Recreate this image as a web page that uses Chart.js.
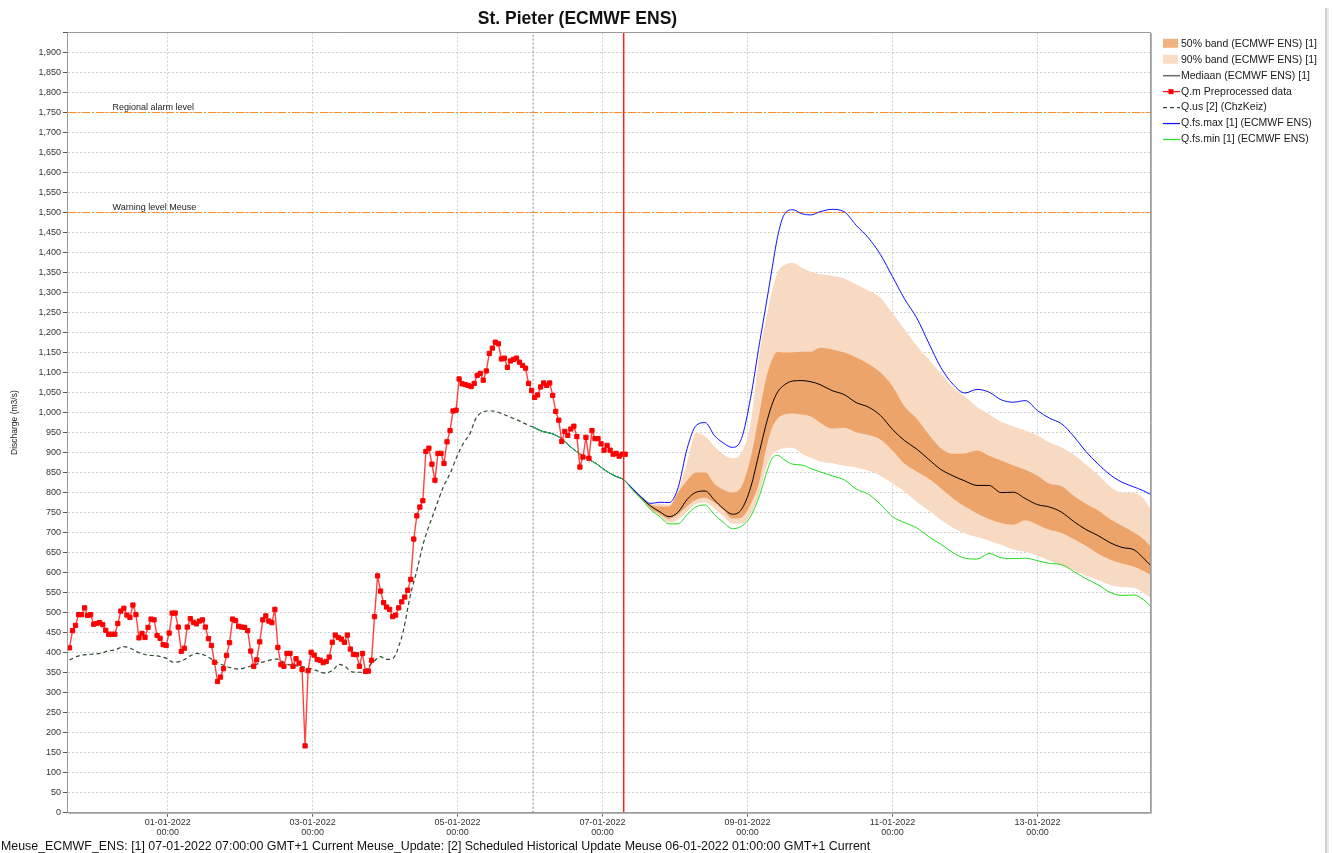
<!DOCTYPE html>
<html><head><meta charset="utf-8">
<script src="https://cdn.jsdelivr.net/npm/chart.js@4.4.1/dist/chart.umd.min.js"></script>
<style>html,body{margin:0;padding:0;background:#fff;overflow:hidden}canvas{display:block}</style>
</head><body>
<canvas id="c" width="1333" height="853"></canvas>
<script>
// ---------- texts ----------
const chartTitle = 'St. Pieter (ECMWF ENS)';
const yAxisTitle = 'Discharge (m3/s)';
const footerText = 'Meuse_ECMWF_ENS: [1] 07-01-2022 07:00:00 GMT+1 Current Meuse_Update: [2] Scheduled Historical Update Meuse 06-01-2022 01:00:00 GMT+1 Current';
const legendLabels = ['50% band (ECMWF ENS) [1]', '90% band (ECMWF ENS) [1]', 'Mediaan (ECMWF ENS) [1]', 'Q.m Preprocessed data', 'Q.us [2] (ChzKeiz)', 'Q.fs.max [1] (ECMWF ENS)', 'Q.fs.min [1] (ECMWF ENS)'];

// ---------- axes (x in hours after 01-01-2022 00:00) ----------
const xMinHour = -33;
const xMaxHour = 325.6;
const xTickHours = [0, 48, 96, 144, 192, 240, 288];
const xTickDates = ['01-01-2022', '03-01-2022', '05-01-2022', '07-01-2022', '09-01-2022', '11-01-2022', '13-01-2022'];
const xTickTimes = ['00:00', '00:00', '00:00', '00:00', '00:00', '00:00', '00:00'];
const yMin = 0, yMax = 1950, yStep = 50;

const forecastT0Hour = 151;   // 07-01-2022 07:00
const updateHour = 121;       // 06-01-2022 01:00
const thresholdValues = [1750, 1500];
const thresholdLabels = ['Regional alarm level', 'Warning level Meuse'];

// ---------- Q.m preprocessed (hourly) ----------
const qmStartHour = -32.5;
const qmStepHours = 1;
const qmValues = [
412,455,468,495,495,512,493,495,471,473,
475,470,456,446,446,446,473,504,511,494,
488,519,495,437,448,438,463,484,482,443,
436,420,418,449,499,499,464,403,411,464,
485,476,472,479,482,464,435,418,376,328,
339,360,393,425,484,480,466,464,463,455,
404,366,382,427,482,492,479,475,508,413,
370,366,398,398,366,385,374,358,167,355,
401,394,383,381,375,378,389,426,444,438,
434,426,444,409,396,395,366,398,353,354,
381,490,592,554,525,514,508,490,494,512,
527,539,556,583,684,742,764,780,903,911,
871,831,898,898,873,927,955,1004,1006,1084,
1072,1070,1068,1065,1073,1093,1098,1081,1104,1148,
1161,1176,1172,1134,1136,1113,1129,1133,1136,1126,
1118,1111,1073,1055,1038,1044,1064,1074,1068,1074,
1043,1003,981,928,953,943,959,966,940,864,
889,938,886,955,935,935,922,906,918,906,
896,898,891,896,896];

// ---------- Q.us [2] ----------
const qusHours = [-32.5,-29,-25.6,-22.3,-20,-17.3,-14.6,-12.9,-10.1,-6.8,-3.5,-0.2,2,4.8,7.5,9.7,12.5,15.8,19.7,23.5,27.4,31.8,36.2,39.5,43.9,48.3,52.2,55,56.6,58.8,61,64.4,66.5,68.3,70.4,72.6,74.8,76.7,78.1,80.3,82.6,84.7,88.1,91.4,93.6,95.8,98,100.2,101.9,103.5,105.7,107.9,110.1,113.4,116.8,119,121];
const qusValues = [382,393,396,398,404,407,415,413,402,394,392,385,376,380,392,398,393,378,365,359,366,377,384,371,366,358,349,358,371,365,352,351,365,378,390,383,387,420,457,541,608,674,749,816,849,891,924,949,983,998,1004,1004,999,989,978,970,964];

// ---------- ECMWF ENS forecast ----------
const fcHours = [121,124,127,130,133,136,139,142,145,148,151,154,157,160,163,166,169,172,175,178,181,184,187,190,193,196,198,200,202,204,207,210,213,216,220,224,228,232,236,240,244,248,252,256,260,264,268,272,276,280,284,288,292,296,300,304,308,312,316,320,323,325.5];
const fsMinValues = [964,953,948,937,917,899,885,872,855,842,832,
 806,783,757,740,722,722,745,765,769,745,726,710,716,740,793,
 842,884,893,883, 871,869,860,852,
 842,832,809,796,771,740,725,712,690,671,650,636,634,648,637,635,636,630,623,620,603,585,570,551,543,544,
 533,516];
const fsMaxValues = [964,953,948,937,917,899,885,872,855,842,832,
 810,788,773,776,775,812,910,968,975,943,924,913,935,1036,1175,
 1263,1354,1441,1493, 1507,1497,1494,1502,
 1508,1502,1468,1437,1395,1340,1284,1237,1174,1113,1071,1049,1058,1051,1032,1026,1030,1005,986,972,941,903,872,845,826,814,
 805,795];
const medianValues = [964,953,948,937,917,899,885,872,855,842,832,
 808,786,766,752,740,751,783,801,804,782,760,746,758,812,904,
 966,1018,1052,1068, 1079,1080,1077,1070,
 1055,1045,1025,1014,993,958,930,909,883,858,842,829,818,818,800,801,785,770,764,751,728,708,693,675,663,657,
 637,618];
const band50Upper = [964,953,948,937,917,899,885,872,855,842,832,
 809,787,770,765,765,800,830,850,850,822,807,800,815,885,1000,
 1080,1130,1152,1150, 1151,1152,1152,1162,
 1158,1150,1138,1122,1100,1066,1015,985,945,911,897,898,905,892,880,868,857,842,822,816,792,772,756,734,717,700,
 685,666];
const band50Lower = [964,953,948,937,917,899,885,872,855,842,832,
 807,784,760,746,734,745,766,782,787,775,757,735,738,770,830,
 905,960,985,995, 998,995,990,975,
 960,962,951,944,933,905,872,853,835,811,786,765,748,734,724,720,731,720,707,699,684,667,648,633,623,615,
 605,595];
const band90Upper = [964,953,948,937,917,899,885,872,855,842,832,
 810,788,770,773,770,805,875,950,940,916,895,886,900,970,1150,
 1228,1300,1350,1368, 1374,1362,1352,1346,
 1342,1335,1320,1305,1287,1248,1208,1168,1133,1098,1063,1040,1014,996,977,966,955,943,925,913,895,870,845,815,800,799,
 786,758];
const band90Lower = [964,953,948,937,917,899,885,872,855,842,832,
 806,783,758,742,725,732,753,772,775,760,740,722,722,745,800,
 858,893,905,911, 912,897,887,878,
 874,867,863,855,842,823,803,777,755,732,712,698,689,680,670,658,652,642,630,618,606,593,582,569,564,562,
 550,537];

// ---------- colours ----------
const col = {
  band50: '#ECA46A', band90: '#F8D9C2', band50Key: '#F0B27F', band90Key: '#F9DCC6',
  median: '#000000', medianKey: '#707070', qm: '#FF0000', qmLine: 'rgba(255,20,20,0.8)',
  qus: '#2E4A2E', max: '#1010FF', min: '#22DD22', threshold: '#FF8A1E', t0: '#FF2020', update: '#8a8a8a'
};

const FONT = "'Liberation Sans', Arial, sans-serif";
Chart.defaults.font.family = FONT;

const pts = (xs, ys) => xs.map((x, i) => ({x: x, y: ys[i]}));
const qmPoints = qmValues.map((v, i) => ({x: qmStartHour + i * qmStepHours, y: v}));
const hline = v => [{x: xMinHour, y: v}, {x: xMaxHour, y: v}];
const vline = h => [{x: h, y: yMin}, {x: h, y: yMax}];
const smooth = {cubicInterpolationMode: 'monotone'};

const datasets = [
  Object.assign({label: legendLabels[1], data: pts(fcHours, band90Upper), fill: '+1', backgroundColor: col.band90, borderWidth: 0, borderColor: 'transparent', pointRadius: 0, order: 20}, smooth),
  Object.assign({label: 'b90low', data: pts(fcHours, band90Lower), fill: false, borderWidth: 0, borderColor: 'transparent', pointRadius: 0, order: 19}, smooth),
  Object.assign({label: legendLabels[0], data: pts(fcHours, band50Upper), fill: '+1', backgroundColor: col.band50, borderWidth: 0, borderColor: 'transparent', pointRadius: 0, order: 18}, smooth),
  Object.assign({label: 'b50low', data: pts(fcHours, band50Lower), fill: false, borderWidth: 0, borderColor: 'transparent', pointRadius: 0, order: 17}, smooth),
  {label: thresholdLabels[0], data: hline(thresholdValues[0]), borderColor: col.threshold, borderWidth: 1, borderDash: [8, 2, 2, 2], pointRadius: 0, fill: false, order: 16},
  {label: thresholdLabels[1], data: hline(thresholdValues[1]), borderColor: col.threshold, borderWidth: 1, borderDash: [8, 2, 2, 2], pointRadius: 0, fill: false, order: 16},
  {label: 'update', data: vline(updateHour), borderColor: col.update, borderWidth: 1, borderDash: [2, 2], pointRadius: 0, fill: false, order: 15},
  Object.assign({label: legendLabels[4], data: pts(qusHours, qusValues), borderColor: col.qus, borderWidth: 1.2, borderDash: [4, 3], pointRadius: 0, fill: false, order: 14}, smooth),
  Object.assign({label: legendLabels[2], data: pts(fcHours, medianValues), borderColor: col.median, borderWidth: 1, pointRadius: 0, fill: false, order: 13}, smooth),
  Object.assign({label: legendLabels[5], data: pts(fcHours, fsMaxValues), borderColor: col.max, borderWidth: 1, pointRadius: 0, fill: false, order: 12}, smooth),
  Object.assign({label: legendLabels[6], data: pts(fcHours, fsMinValues), borderColor: col.min, borderWidth: 1, pointRadius: 0, fill: false, order: 11}, smooth),
  {label: legendLabels[3], data: qmPoints, borderColor: col.qmLine, borderWidth: 1.4, pointStyle: 'rect', pointRadius: 3, pointBorderWidth: 1, pointBackgroundColor: col.qm, pointBorderColor: col.qm, fill: false, order: 10},
  {label: 't0', data: vline(forecastT0Hour), borderColor: col.t0, borderWidth: 1.5, pointRadius: 0, fill: false, order: 5}
];

const legendItems = [
  {type: 'box', color: col.band50Key},
  {type: 'box', color: col.band90Key},
  {type: 'line', color: col.medianKey},
  {type: 'marker', color: col.qm},
  {type: 'dash', color: col.qus},
  {type: 'line', color: col.max},
  {type: 'line', color: col.min}
];

const overlay = {
  id: 'overlay',
  beforeDraw(chart) {
    const ctx = chart.ctx;
    ctx.save(); ctx.fillStyle = '#fff'; ctx.fillRect(0, 0, chart.width, chart.height); ctx.restore();
  },
  afterDraw(chart) {
    const {ctx, chartArea: a, scales} = chart;
    const ys = scales.y;
    ctx.save();
    // plot frame
    ctx.strokeStyle = '#9a9a9a'; ctx.lineWidth = 1;
    ctx.beginPath();
    ctx.moveTo(67.5, 32.5); ctx.lineTo(1150.5, 32.5); ctx.lineTo(1150.5, 812.5); ctx.lineTo(67.5, 812.5); ctx.closePath();
    ctx.stroke();
    ctx.strokeStyle = '#b4b4b4';
    ctx.beginPath(); ctx.moveTo(1151.5, 33); ctx.lineTo(1151.5, 813.5); ctx.lineTo(68, 813.5); ctx.stroke();
    // threshold labels
    ctx.fillStyle = '#222'; ctx.font = '9px ' + FONT; ctx.textAlign = 'left'; ctx.textBaseline = 'middle';
    thresholdValues.forEach((v, i) => ctx.fillText(thresholdLabels[i], a.left + 44.5, ys.getPixelForValue(v) - 5.3));
    // title
    ctx.fillStyle = '#111'; ctx.font = 'bold 17.5px ' + FONT; ctx.textAlign = 'center';
    ctx.fillText(chartTitle, 577.5, 19);
    // y axis title
    ctx.save(); ctx.translate(15, (a.top + a.bottom) / 2); ctx.rotate(-Math.PI / 2);
    ctx.font = '8.5px ' + FONT; ctx.fillStyle = '#222'; ctx.textAlign = 'center';
    ctx.fillText(yAxisTitle, 0, 0); ctx.restore();
    // footer
    ctx.fillStyle = '#111'; ctx.font = '12.4px ' + FONT; ctx.textAlign = 'left';
    ctx.fillText(footerText, 1, 847);
    // right panel edge
    ctx.fillStyle = '#cfcfcf'; ctx.fillRect(1325, 8, 2, 845);
    ctx.fillStyle = '#ececec'; ctx.fillRect(1327, 8, 2, 845);
    // legend
    const lx = 1163, lw = 15, tx = 1181;
    ctx.font = '10.5px ' + FONT; ctx.textAlign = 'left'; ctx.textBaseline = 'middle';
    legendItems.forEach((it, i) => {
      const y = 43.3 + i * 15.95;
      if (it.type === 'box') { ctx.fillStyle = it.color; ctx.fillRect(lx, y - 4.5, lw, 9); }
      else {
        ctx.strokeStyle = it.color; ctx.lineWidth = (it.type === 'line' && i === 2) ? 1.6 : 1.2;
        ctx.setLineDash(it.type === 'dash' ? [4, 3] : []);
        ctx.beginPath(); ctx.moveTo(lx, y + 0.5); ctx.lineTo(lx + lw + 2, y + 0.5); ctx.stroke();
        ctx.setLineDash([]);
        if (it.type === 'marker') { ctx.fillStyle = it.color; ctx.fillRect(lx + 5.5, y - 2, 5, 5); }
      }
      ctx.fillStyle = '#1a1a1a';
      ctx.fillText(legendLabels[i], tx, y + 0.5);
    });
    ctx.restore();
  }
};

new Chart(document.getElementById('c'), {
  type: 'line',
  data: {datasets: datasets},
  options: {
    responsive: false, animation: false, events: [],
    layout: {padding: {top: 32.5, right: 182, bottom: 0, left: 0}},
    plugins: {legend: {display: false}, title: {display: false}, tooltip: {enabled: false}},
    elements: {line: {tension: 0}},
    scales: {
      x: {
        type: 'linear', min: xMinHour, max: xMaxHour, z: 1,
        afterBuildTicks: s => { s.ticks = xTickHours.map(v => ({value: v})); },
        afterFit: s => { s.height = 40.3; },
        grid: {color: '#cdcdcd', lineWidth: 1, drawTicks: true, tickLength: 4, tickColor: '#666'},
        border: {display: false, dash: [2, 2]},
        ticks: {autoSkip: false, maxRotation: 0, padding: 1, color: '#333', font: {size: 9, lineHeight: 1.1},
          callback: v => { const i = xTickHours.indexOf(v); return i < 0 ? '' : [xTickDates[i], xTickTimes[i]]; }}
      },
      y: {
        type: 'linear', min: yMin, max: yMax, z: 1,
        afterFit: s => { s.width = 68; },
        grid: {color: '#cdcdcd', lineWidth: 1, drawTicks: true, tickLength: 5, tickColor: '#555'},
        border: {display: false, dash: [2, 2]},
        ticks: {stepSize: yStep, autoSkip: false, padding: 2, color: '#333', font: {size: 9},
          callback: v => v >= yMax ? '' : v.toLocaleString('en-US')}
      }
    }
  },
  plugins: [overlay]
});
</script>
</body></html>
